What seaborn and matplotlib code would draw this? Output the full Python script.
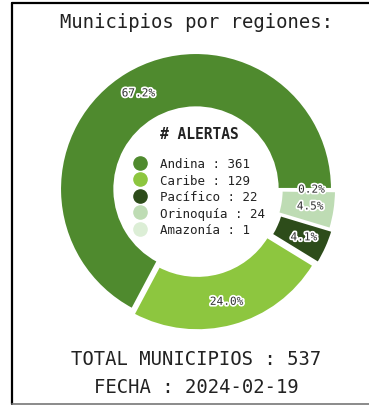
import matplotlib
matplotlib.use("Agg")
import matplotlib.pyplot as plt
import matplotlib.patheffects as pe
from matplotlib.lines import Line2D
import seaborn as sns

# Municipios con alertas por región
regiones = ["Andina", "Caribe", "Pacífico", "Orinoquía", "Amazonía"]
municipios = [361, 129, 22, 24, 1]
colores = ["#4f8a2e", "#8dc63f", "#2d4c1a", "#bedcb4", "#dceed6"]
titulo = "Municipios por regiones:"
titulo_leyenda = "# ALERTAS"
fecha = "2024-02-19"

sns.set_theme(style="white")
plt.rcParams["font.family"] = ["DejaVu Sans Mono", "DejaVu Sans"]

W, H = 369, 406
fig = plt.figure(figsize=(W / 100, H / 100), dpi=100)
fig.patch.set_facecolor("white")

# donut: centre and radius in pixels
cx, cy, R = 196, 190, 136
half = 160
ax = fig.add_axes([(cx - half) / W, (H - cy - half) / H, 2 * half / W, 2 * half / H])
paleta = sns.color_palette(colores)

wedges, textos, pcts = ax.pie(
    municipios,
    colors=paleta,
    startangle=0,
    counterclock=True,
    radius=1,
    explode=[0.0, 0.04, 0.05, 0.03, 0.03],
    autopct="%1.1f%%",
    pctdistance=0.82,
    wedgeprops=dict(width=0.4, edgecolor="white", linewidth=1.5),
    textprops=dict(fontsize=8, color="#333333", family="DejaVu Sans Mono"),
)
for t in pcts:
    t.set_path_effects([pe.withStroke(linewidth=2.5, foreground="white")])

lim = half / R
ax.set_xlim(-lim, lim)
ax.set_ylim(-lim, lim)
ax.set_aspect("equal")
ax.axis("off")

handles = [
    Line2D([0], [0], marker="o", linestyle="none", markersize=9.5,
           markerfacecolor=c, markeredgecolor=c)
    for c in paleta
]
etiquetas = [f"{r} : {n}" for r, n in zip(regiones, municipios)]
leg = ax.legend(
    handles, etiquetas,
    title=titulo_leyenda,
    loc="center",
    bbox_to_anchor=(199 / W, 1 - 182 / H),
    bbox_transform=fig.transFigure,
    frameon=False,
    prop=dict(family="DejaVu Sans Mono", size=9),
    title_fontproperties=dict(family="DejaVu Sans Mono", size=10.5, weight="bold"),
    labelspacing=0.28,
    handletextpad=1.1,
    handlelength=1.0,
    borderpad=0.2,
)
for t in leg.get_texts():
    t.set_color("#222222")
leg.get_title().set_color("#222222")
leg._legend_box.sep = 12

fig.text(196 / W, 1 - 22 / H, titulo, ha="center", va="center",
         fontsize=13.6, color="#222222", family="DejaVu Sans Mono")
fig.text(196 / W, 1 - 360 / H, f"TOTAL MUNICIPIOS : {sum(municipios)}",
         ha="center", va="center", fontsize=13.6, color="#222222",
         family="DejaVu Sans Mono")
fig.text(196 / W, 1 - 388 / H, f"FECHA : {fecha}", ha="center", va="center",
         fontsize=13.6, color="#222222", family="DejaVu Sans Mono")

# figure frame
fig.add_artist(Line2D([12.5 / W, 12.5 / W], [1 - 3.5 / H, 1 - 405 / H],
                      transform=fig.transFigure, color="black", linewidth=1.6))
fig.add_artist(Line2D([12.5 / W, 1.0], [1 - 3.5 / H, 1 - 3.5 / H],
                      transform=fig.transFigure, color="black", linewidth=1.6))
fig.add_artist(Line2D([12.5 / W, 1.0], [1 - 405 / H, 1 - 405 / H],
                      transform=fig.transFigure, color="#777777", linewidth=1.2))

fig.savefig("out.png", dpi=100, facecolor="white")
